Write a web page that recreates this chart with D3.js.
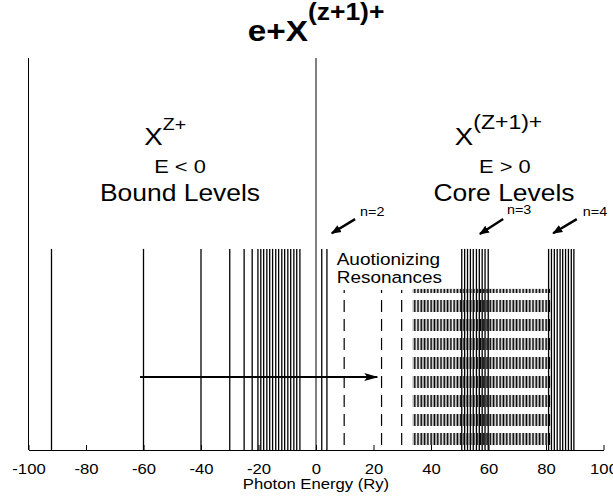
<!DOCTYPE html>
<html>
<head>
<meta charset="utf-8">
<script src="https://cdn.jsdelivr.net/npm/d3@7"></script>
<style>
  body { margin: 0; background: #fff; }
  text { font-family: "Liberation Sans", Arial, sans-serif; fill: #000; }
</style>
</head>
<body>
<div id="chart"></div>
<script>
/*
* Energy level schematic: bound levels, autoionizing resonances, core levels
*/

const W = 613, H = 499;
const SX = 1.15; // text in the original is a bit wider than Helvetica

// energies (Ry)
const xTicks = [-100, -80, -60, -40, -20, 0, 20, 40, 60, 80, 100];
const tallLines = [-100, 0];
const boundLevels = [-92, -60, -40, -30, -25, -22.2, -20.2, -19.2, -18.2, -17.1, -16.1,
  -15.1, -14.0, -13.0, -11.9, -10.9, -9.8, -8.8, -7.7, -6.7, -5.6];
const nearZero = [2, 3.8];
const n3Levels = [50.7, 51.7, 52.7, 53.7, 54.7, 55.8, 56.8, 57.8, 58.8, 59.9];
const n4Levels = [80.9, 81.9, 82.9, 83.9, 84.9, 85.8, 86.8, 87.8, 88.8, 89.7];
const resonances = [9.8, 22.8, 29.8];
const continuum = [33.6, 81.5];

// heights of the marks (axis units, 0..1)
const tallTop = 1;
const levelTop = 0.513;
const resTop = 0.408;
const contTop = 0.411;

const nArrows = [
  { name: 'n=2', x1: 13.6, y1: 0.589, x2: 5.5, y2: 0.553, tx: 15.3, ty: 0.597 },
  { name: 'n=3', x1: 65.1, y1: 0.589, x2: 57.0, y2: 0.551, tx: 66.4, ty: 0.601 },
  { name: 'n=4', x1: 90.7, y1: 0.589, x2: 82.5, y2: 0.553, tx: 92.8, ty: 0.597 }
];
const photonArrow = { x1: -61.2, x2: 21.3, y: 0.186 };

let svg, x, y;

window.onload = function () {
  svg = d3.select('#chart').append('svg')
    .attr('width', W)
    .attr('height', H);

  x = d3.scaleLinear().domain([-100, 100]).range([28.5, 603.5]);
  y = d3.scaleLinear().domain([0, 1]).range([450, 58]);

  drawContinuum();
  drawLevels();
  drawArrows();
  drawAxis();
  drawLabels();
};

function drawContinuum() {
  // dashed hatch: rows start every 19px, 12px dash + 7px gap
  const phase = 300;
  const pat = svg.append('defs').append('pattern')
    .attr('id', 'hatch')
    .attr('patternUnits', 'userSpaceOnUse')
    .attr('x', x(continuum[0]))
    .attr('y', phase)
    .attr('width', x(0.5) - x(0))
    .attr('height', 19);
  pat.append('rect')
    .attr('x', 0).attr('y', 0)
    .attr('width', 0.75).attr('height', 12)
    .attr('fill', '#000');

  svg.append('rect')
    .attr('x', x(continuum[0]))
    .attr('y', y(contTop))
    .attr('width', x(continuum[1]) - x(continuum[0]))
    .attr('height', y(0) - y(contTop))
    .attr('fill', 'url(#hatch)');

  // dashed resonance lines, same dash phase
  svg.selectAll('.res')
    .data(resonances)
    .enter().append('line')
    .attr('class', 'res')
    .attr('x1', d => x(d)).attr('x2', d => x(d))
    .attr('y1', y(resTop)).attr('y2', y(0))
    .attr('stroke', '#000')
    .attr('stroke-width', 1.2)
    .attr('stroke-dasharray', '12 7')
    .attr('stroke-dashoffset', ((y(resTop) - phase) % 19 + 19) % 19);
}

function drawLevels() {
  const groups = [
    { data: tallLines, top: tallTop, w: 1 },
    { data: boundLevels, top: levelTop, w: 1.3 },
    { data: nearZero, top: levelTop, w: 1.3 },
    { data: n3Levels, top: levelTop, w: 1.3 },
    { data: n4Levels, top: levelTop, w: 1.3 }
  ];
  groups.forEach(function (g) {
    svg.append('g').selectAll('line')
      .data(g.data)
      .enter().append('line')
      .attr('x1', d => x(d)).attr('x2', d => x(d))
      .attr('y1', y(g.top))
      .attr('y2', y(0))
      .attr('stroke', '#000')
      .attr('stroke-width', g.w);
  });
}

function drawArrows() {
  const defs = svg.append('defs');
  defs.append('marker')
    .attr('id', 'headBig')
    .attr('markerUnits', 'userSpaceOnUse')
    .attr('viewBox', '0 -5 14 10')
    .attr('refX', 13).attr('refY', 0)
    .attr('markerWidth', 14).attr('markerHeight', 10)
    .attr('orient', 'auto')
    .append('path').attr('d', 'M0,-4L14,0L0,4L3,0Z').attr('fill', '#000');
  defs.append('marker')
    .attr('id', 'headSmall')
    .attr('markerUnits', 'userSpaceOnUse')
    .attr('viewBox', '0 -5 10 10')
    .attr('refX', 9).attr('refY', 0)
    .attr('markerWidth', 10).attr('markerHeight', 10)
    .attr('orient', 'auto')
    .append('path').attr('d', 'M0,-4L10,0L0,4Z').attr('fill', '#000');

  svg.append('line')
    .attr('x1', x(photonArrow.x1)).attr('x2', x(photonArrow.x2))
    .attr('y1', y(photonArrow.y)).attr('y2', y(photonArrow.y))
    .attr('stroke', '#000')
    .attr('stroke-width', 2)
    .attr('marker-end', 'url(#headBig)');

  nArrows.forEach(function (a) {
    svg.append('line')
      .attr('x1', x(a.x1)).attr('y1', y(a.y1))
      .attr('x2', x(a.x2)).attr('y2', y(a.y2))
      .attr('stroke', '#000')
      .attr('stroke-width', 2.4)
      .attr('marker-end', 'url(#headSmall)');
    label(x(a.tx), y(a.ty), 12.5, 'start', 'normal', [{ t: a.name }]);
  });
}

function drawAxis() {
  const ax = svg.append('g')
    .attr('transform', 'translate(0,' + y(0) + ')')
    .call(d3.axisBottom(x)
      .tickValues(xTicks)
      .tickSizeInner(-5)
      .tickSizeOuter(0)
      .tickPadding(14)
      .tickFormat(d => String(d)));
  ax.select('.domain').attr('stroke', '#000');
  ax.selectAll('.tick line').attr('stroke', '#000');
  ax.selectAll('.tick text')
    .attr('font-size', 14.5)
    .attr('font-family', '"Liberation Sans", Arial, sans-serif')
    .attr('transform', 'scale(' + SX + ',1)');

  label(x(0), 489, 14.5, 'middle', 'normal', [{ t: 'Photon Energy (Ry)' }]);
}

function drawLabels() {
  label(x(0), y(1.043), 29, 'middle', 'bold',
    [{ t: 'e+X' }, { t: '(z+1)+', size: 23, dy: -21 }]);

  label(x(-59.7), y(0.778), 24, 'start', 'normal',
    [{ t: 'X' }, { t: 'Z+', size: 17, dy: -15 }]);
  label(x(-47.3), y(0.707), 19, 'middle', 'normal', [{ t: 'E < 0' }]);
  label(x(-47.3), y(0.634), 23, 'middle', 'normal', [{ t: 'Bound Levels' }]);

  label(x(48.3), y(0.778), 24, 'start', 'normal',
    [{ t: 'X' }, { t: '(Z+1)+', size: 20, dy: -16 }]);
  label(x(65.7), y(0.707), 19, 'middle', 'normal', [{ t: 'E > 0' }]);
  label(x(65.4), y(0.634), 23, 'middle', 'normal', [{ t: 'Core Levels' }]);

  label(x(7.2), y(0.472), 16.5, 'start', 'normal', [{ t: 'Auotionizing' }]);
  label(x(7.2), y(0.426), 16.5, 'start', 'normal', [{ t: 'Resonances' }]);
}

function label(px, py, size, anchor, weight, parts) {
  const t = svg.append('text')
    .attr('transform', 'translate(' + px + ',' + py + ') scale(' + SX + ',1)')
    .attr('text-anchor', anchor)
    .attr('font-size', size)
    .attr('font-weight', weight);
  parts.forEach(function (p) {
    t.append('tspan')
      .attr('font-size', p.size || size)
      .attr('dy', p.dy || 0)
      .text(p.t);
  });
}
</script>
</body>
</html>
